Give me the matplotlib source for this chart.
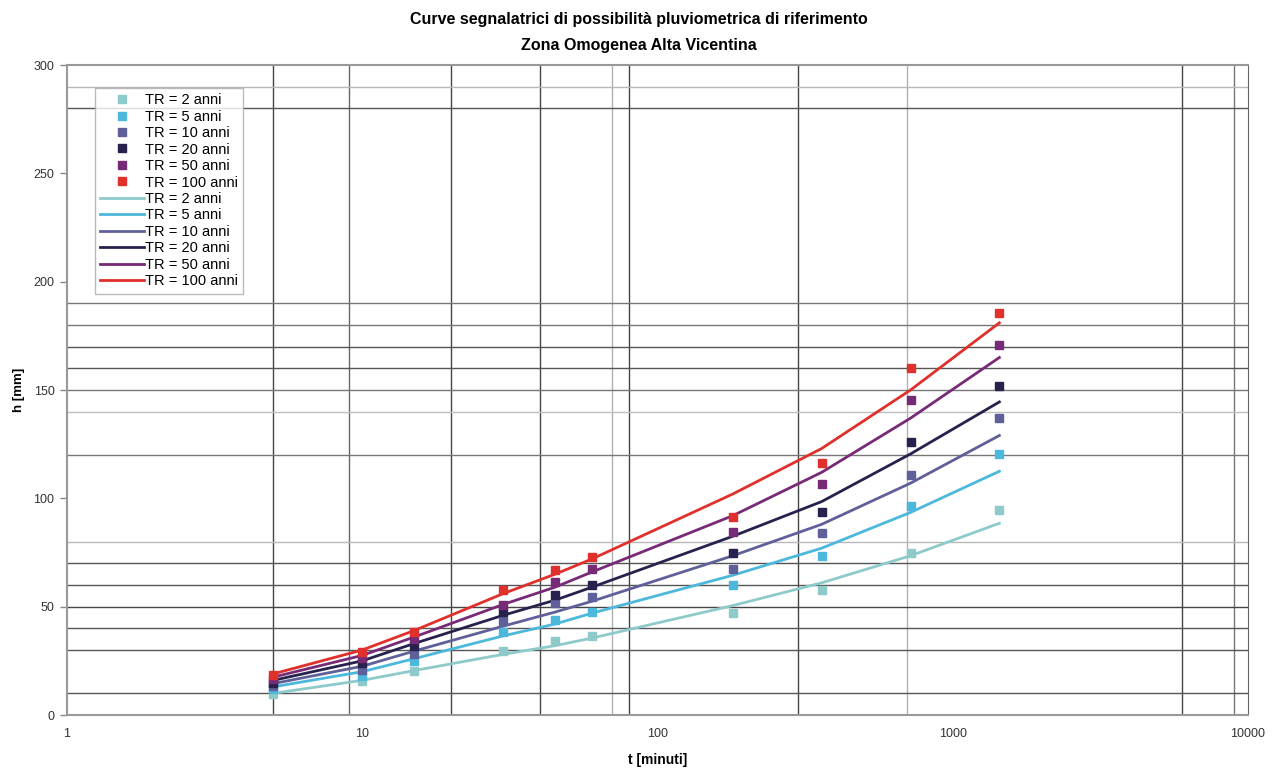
import numpy as np
import matplotlib.pyplot as plt
from matplotlib.ticker import FixedLocator, FixedFormatter

# durations (minutes) and return periods
durations = [5, 10, 15, 30, 45, 60, 180, 360, 720, 1440]
return_periods = [2, 5, 10, 20, 50, 100]

# observed rainfall depths h [mm] per return period
obs_tr2 = [9.5, 15.5, 20.5, 29.5, 34, 36.5, 47, 57.5, 75, 94.5]
obs_tr5 = [12, 18, 25, 38.5, 44, 47.5, 60, 73.5, 96.5, 120.5]
obs_tr10 = [13.5, 21, 28, 43.5, 51.5, 54.5, 67.5, 84, 111, 137]
obs_tr20 = [15, 24, 32, 47.5, 55.5, 60, 75, 93.5, 126, 152]
obs_tr50 = [16.5, 26.5, 35, 51, 61.5, 67.5, 84.5, 106.5, 145.5, 171]
obs_tr100 = [18.5, 29, 38.5, 57.5, 67, 73, 91.5, 116.5, 160, 185.5]

# fitted curves h(t) per return period
fit_tr2 = [10, 16, 20.5, 28, 32, 35.5, 50.5, 61, 73.5, 88.5]
fit_tr5 = [13, 20, 26, 36.5, 42, 47, 64.5, 77, 93.5, 112.5]
fit_tr10 = [14.5, 22.5, 29.5, 41, 47.5, 52.5, 73.5, 88, 107, 129]
fit_tr20 = [16, 25, 33, 46, 53, 59, 82.5, 98.5, 120.5, 144.5]
fit_tr50 = [17.5, 27.5, 36, 51, 59, 66, 92, 112, 137, 165]
fit_tr100 = [19, 30, 39, 56, 65, 72, 102, 123, 150, 181]

colors = ['#8ecaca', '#4cb8dc', '#5f6099', '#27224d', '#772a75', '#e0302c']

# odd leftover grid of the original sheet: (position, colour)
vgrid = [(5, '#444444'), (9, '#666666'), (20, '#444444'), (40, '#444444'),
         (70, '#b0b0b0'), (80, '#444444'), (300, '#444444'), (700, '#b0b0b0'),
         (6000, '#444444'), (9000, '#777777')]
hgrid = [(10, '#555555'), (30, '#555555'), (40, '#555555'), (50, '#444444'),
         (60, '#555555'), (70, '#555555'), (80, '#b8b8b8'), (120, '#777777'),
         (140, '#c0c0c0'), (150, '#777777'), (160, '#555555'), (170, '#555555'),
         (180, '#777777'), (190, '#777777'), (280, '#555555'), (290, '#b8b8b8')]

plt.rcParams['font.family'] = ['Liberation Sans', 'DejaVu Sans']

fig = plt.figure(figsize=(12.78, 7.76), dpi=100)
ax = fig.add_axes([0.0524, 0.0786, 0.924, 0.8376])

for x, c in vgrid:
    ax.axvline(x, color=c, lw=1.0, zorder=1)
for y, c in hgrid:
    ax.axhline(y, color=c, lw=1.0, zorder=1)

obs = [obs_tr2, obs_tr5, obs_tr10, obs_tr20, obs_tr50, obs_tr100]
fit = [fit_tr2, fit_tr5, fit_tr10, fit_tr20, fit_tr50, fit_tr100]

for tr, h, c in zip(return_periods, obs, colors):
    ax.plot(durations, h, ls='none', marker='s', ms=6, color=c,
            label=f'TR = {tr} anni', zorder=3)
for tr, h, c in zip(return_periods, fit, colors):
    ax.plot(durations, h, color=c, lw=2.0, label=f'TR = {tr} anni', zorder=2)

ax.set_xscale('log')
ax.set_xlim(1, 10000)
ax.set_ylim(0, 300)
ax.xaxis.set_major_locator(FixedLocator([1, 10, 100, 1000, 10000]))
ax.xaxis.set_major_formatter(FixedFormatter(['1', '10', '100', '1000', '10000']))
ax.xaxis.set_minor_locator(FixedLocator([]))
ax.set_yticks([0, 50, 100, 150, 200, 250, 300])
ax.tick_params(axis='x', length=0, pad=9, labelsize=9, colors='#333333')
ax.tick_params(axis='y', length=5, width=1, color='#888888', pad=4,
               labelsize=9, labelcolor='#333333')

for side in ['top', 'bottom', 'left']:
    ax.spines[side].set_color('#999999')
    ax.spines[side].set_linewidth(1.5)
ax.spines['right'].set_color('#666666')

ax.set_xlabel('t [minuti]', fontsize=10, fontweight='bold', labelpad=10)
ax.set_ylabel('h [mm]', fontsize=9.5, fontweight='bold', labelpad=6)

fig.suptitle('Curve segnalatrici di possibilità pluviometrica di riferimento\n'
             'Zona Omogenea Alta Vicentina',
             fontsize=11.5, fontweight='bold', y=0.984, linespacing=1.85)

leg = ax.legend(loc='upper left', bbox_to_anchor=(0.0237, 0.9646), fontsize=10.5,
                frameon=True, fancybox=False, edgecolor='#aaaaaa',
                handlelength=3.0, handletextpad=0.1, labelspacing=0.17,
                borderpad=0.35, borderaxespad=0)
leg.get_frame().set_linewidth(1.0)
leg.set_zorder(5)

fig.savefig('out.png', dpi=100)
